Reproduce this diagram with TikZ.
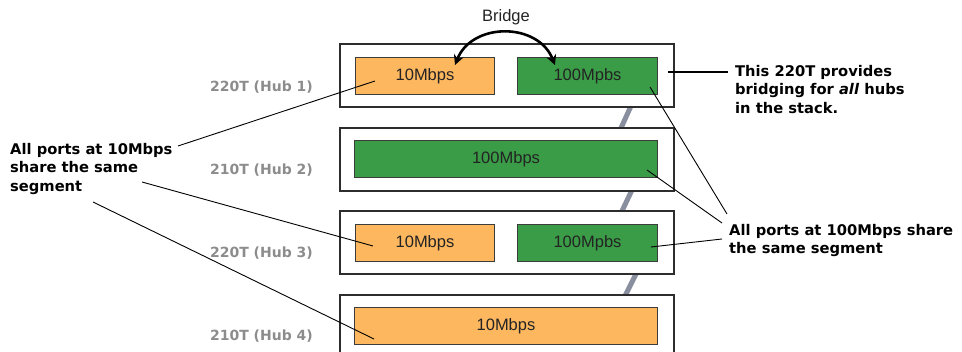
\documentclass[tikz,border=0pt]{standalone}
\usepackage{fontspec}
\usetikzlibrary{arrows.meta}
\setmainfont{Liberation Sans}
\newfontfamily\dvs{DejaVu Sans}
\definecolor{boxgray}{RGB}{45,45,45}
\definecolor{portline}{RGB}{60,60,60}
\definecolor{orangeten}{RGB}{253,183,95}
\definecolor{greenhund}{RGB}{58,156,70}
\definecolor{labelgray}{RGB}{140,140,140}
\definecolor{stackgray}{RGB}{138,143,160}
\definecolor{porttext}{RGB}{35,35,35}
\begin{document}
\begin{tikzpicture}[x=1pt,y=-1pt,
  hub/.style={draw=boxgray, line width=2pt, fill=white, minimum width=334pt, minimum height=63pt, anchor=north west, inner sep=0pt},
  portbox/.style={draw=portline, line width=1pt, anchor=north west, minimum height=37pt, inner sep=0pt, text=porttext, font=\fontsize{16.5}{18}\selectfont},
  portten/.style={portbox, fill=orangeten},
  porthund/.style={portbox, fill=greenhund},
  hublabel/.style={anchor=base east, text=labelgray, font=\dvs\bfseries\fontsize{14}{16}\selectfont, inner sep=0pt},
  note/.style={font=\dvs\bfseries\fontsize{14.7}{18.5}\selectfont, align=left, inner sep=0pt, anchor=north west},
  callout/.style={draw=black, line width=0.9pt},
  stacklink/.style={draw=stackgray, line width=5pt}
]
\useasboundingbox (0,0) rectangle (962,352);
\clip (0,0) rectangle (962,352);

% stack links (behind hubs)
\coordinate (s1a) at (632.8,102); \coordinate (s1b) at (619.2,132);
\coordinate (s2a) at (633.9,186); \coordinate (s2b) at (620.1,215);
\coordinate (s3a) at (638,270);   \coordinate (s3b) at (624,298);
\draw[stacklink] (s1a) -- (s1b);
\draw[stacklink] (s2a) -- (s2b);
\draw[stacklink] (s3a) -- (s3b);

% hubs
\node[hub] (h1) at (339,43.5) {};
\node[hub] (h2) at (339,127) {};
\node[hub] (h3) at (339,210.5) {};
\node[hub] (h4) at (339,294) {};

% ports
\node[portten, minimum width=139pt] (p1a) at (355,57) {10Mbps};
\node[porthund, minimum width=140pt] (p1b) at (517,57) {100Mpbs};
\node[porthund, minimum width=303pt] (p2) at (354,140.5) {100Mbps};
\node[portten, minimum width=139pt] (p3a) at (355,224) {10Mbps};
\node[porthund, minimum width=140pt] (p3b) at (517,224) {100Mpbs};
\node[portten, minimum width=303pt] (p4) at (354,307) {10Mbps};

% hub labels
\node[hublabel] (l1) at (313,92) {220T (Hub 1)};
\node[hublabel] (l2) at (313,175) {210T (Hub 2)};
\node[hublabel] (l3) at (313,258) {220T (Hub 3)};
\node[hublabel] (l4) at (313,341) {210T (Hub 4)};

% bridge
\node[anchor=base, inner sep=0pt, text=porttext, font=\fontsize{16.5}{18}\selectfont] (br) at (506,22) {Bridge};
\coordinate (bl) at (455,65);
\coordinate (brr) at (555,65);
\draw[line width=2.6pt, {Stealth[length=10pt,width=10pt]}-{Stealth[length=10pt,width=10pt]}] (bl) .. controls (472,22) and (538,22) .. (brr);

% annotations
\node[note] (tr) at (735,64.8) {This 220T provides\\bridging for \textit{all} hubs\\in the stack.};
\node[note] (rs) at (729,223.8) {All ports at 100Mbps share\\the same segment};
\node[note] (ls) at (10,142.8) {All ports at 10Mbps\\share the same\\segment};

% thick pointer to hub 1
\coordinate (t1) at (668,72);
\coordinate (t2) at (728,72);
\draw[line width=2.6pt] (t1) -- (t2);

% right callouts
\coordinate (r1) at (727,214);
\coordinate (r2) at (722,223);
\coordinate (r3) at (722,239);
\coordinate (q1) at (650,87);
\coordinate (q2) at (647,170);
\coordinate (q3) at (651,247);
\draw[callout] (q1) -- (r1);
\draw[callout] (q2) -- (r2);
\draw[callout] (q3) -- (r3);

% left callouts
\coordinate (k1) at (178,146);
\coordinate (k2) at (142,182);
\coordinate (k3) at (93,202);
\coordinate (e1) at (375,81);
\coordinate (e2) at (373,246);
\coordinate (e3) at (374,339);
\draw[callout] (k1) -- (e1);
\draw[callout] (k2) -- (e2);
\draw[callout] (k3) -- (e3);
\end{tikzpicture}
\end{document}
